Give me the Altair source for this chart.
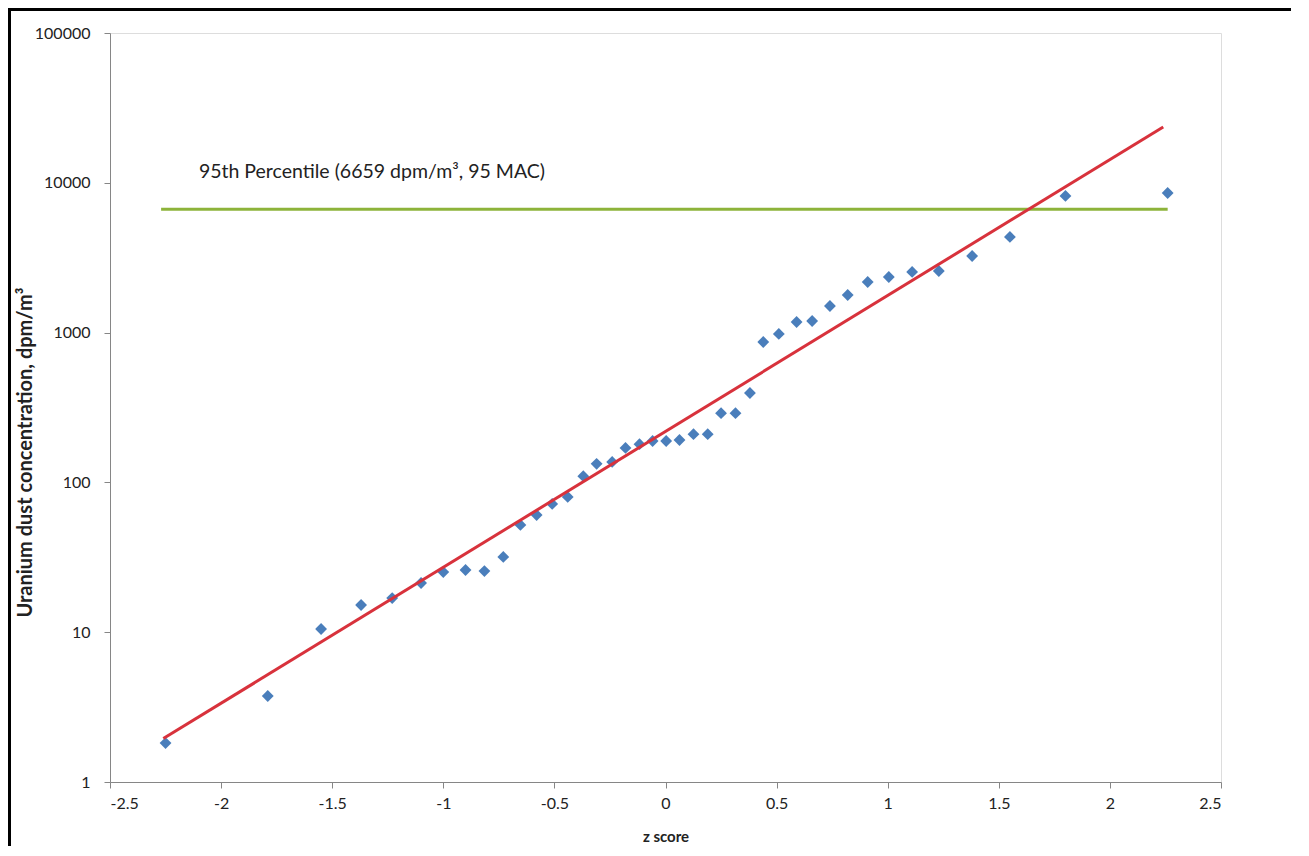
import altair as alt
import pandas as pd

# z scores (normal scores) of the 41 samples
z_scores = [-2.25, -1.79, -1.55, -1.37, -1.23, -1.10, -1.00, -0.90, -0.815, -0.73,
            -0.653, -0.58, -0.51, -0.44, -0.37, -0.31, -0.24, -0.18, -0.117, -0.058,
            0.003, 0.063, 0.126, 0.19, 0.25, 0.315, 0.38, 0.44, 0.51, 0.59,
            0.66, 0.74, 0.82, 0.91, 1.005, 1.11, 1.23, 1.38, 1.55, 1.80, 2.26]
# uranium dust concentration, dpm/m3
concentrations = [1.82, 3.75, 10.5, 15.2, 16.9, 21.3, 25.2, 26.0, 25.6, 31.8,
                  52, 60.6, 71.8, 80, 110, 133, 137, 170, 180, 189,
                  189, 192, 210, 210, 290, 290, 395, 866, 980, 1177,
                  1195, 1506, 1783, 2177, 2350, 2540, 2578, 3245, 4350, 8170, 8550]

# fitted log-normal trend line (end points)
trend_z = [-2.26, 2.24]
trend_y = [1.95, 23600]

# 95th percentile line
pct_z = [-2.27, 2.26]
pct_y = [6659, 6659]
pct_label = "95th Percentile (6659 dpm/m³, 95 MAC)"
label_z = [-2.10]
label_y = [11800]

x_ticks = [-2.5, -2, -1.5, -1, -0.5, 0, 0.5, 1, 1.5, 2, 2.5]
y_ticks = [1, 10, 100, 1000, 10000, 100000]

FONT = "Lato"
W, H = 1111, 749
PL, PT, PR, PB = 102, 25, 70, 64

pts = pd.DataFrame({"z": z_scores, "c": concentrations})
trend = pd.DataFrame({"z": trend_z, "c": trend_y})
pct = pd.DataFrame({"z": pct_z, "c": pct_y})
lab = pd.DataFrame({"z": label_z, "c": label_y, "t": [pct_label]})

xscale = alt.Scale(domain=[-2.5, 2.5], nice=False, zero=False)
yscale = alt.Scale(type="log", domain=[1, 100000], nice=False)

xaxis = alt.Axis(values=x_ticks, labelExpr="datum.value + ''", title="z score",
                 grid=False, domainColor="#868686", tickColor="#868686", tickSize=6,
                 labelFont=FONT, labelFontSize=16, labelColor="#222222", labelPadding=7,
                 titleFont=FONT, titleFontSize=15, titleFontWeight="bold", titleColor="#222222",
                 titlePadding=18)
yaxis = alt.Axis(values=y_ticks, format="d", title="Uranium dust concentration, dpm/m³",
                 grid=False, domainColor="#868686", tickColor="#868686", tickSize=6,
                 labelFont=FONT, labelFontSize=16, labelColor="#222222", labelPadding=14,
                 titleFont=FONT, titleFontSize=20, titleFontWeight="bold", titleColor="#222222",
                 titleX=-85, titleY=419, titleAngle=270, titleAlign="center", titleBaseline="middle")

base_x = alt.X("z:Q", scale=xscale, axis=xaxis)
base_y = alt.Y("c:Q", scale=yscale, axis=yaxis)

green = alt.Chart(pct).mark_line(color="#8DB33A", strokeWidth=3).encode(
    x=alt.X("z:Q", scale=xscale), y=alt.Y("c:Q", scale=yscale))
red = alt.Chart(trend).mark_line(color="#D8323C", strokeWidth=3).encode(
    x=alt.X("z:Q", scale=xscale), y=alt.Y("c:Q", scale=yscale))
points = alt.Chart(pts).mark_point(shape="diamond", filled=True, size=140,
                                    color="#4A7EBB", opacity=1).encode(x=base_x, y=base_y)
text = alt.Chart(lab).mark_text(align="left", baseline="middle", font=FONT, fontSize=19.5,
                                color="#222222").encode(
    x=alt.X("z:Q", scale=xscale), y=alt.Y("c:Q", scale=yscale), text="t:N")

frame_top = alt.Chart(pts).mark_rule(color="black", strokeWidth=3).encode(
    x=alt.value(-PL), x2=alt.value(W + PR), y=alt.value(-PT + 1))
frame_left = alt.Chart(pts).mark_rule(color="black", strokeWidth=3).encode(
    x=alt.value(-PL + 1), y=alt.value(-PT), y2=alt.value(H + PB))

chart = alt.layer(points, green, red, text, frame_top, frame_left).properties(
    width=W, height=H,
    autosize=alt.AutoSizeParams(type="none"),
    padding={"left": PL, "top": PT, "right": PR, "bottom": PB},
).configure_view(stroke=None).configure(background="white")

chart.save("out.html", embed_options={"renderer": "svg", "actions": False})
